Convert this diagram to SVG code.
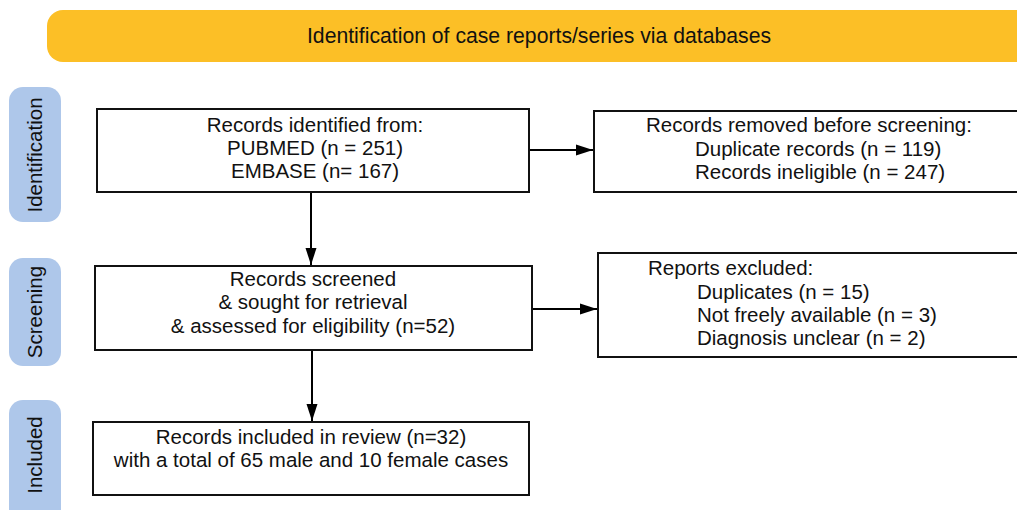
<svg xmlns="http://www.w3.org/2000/svg" width="1017" height="510" viewBox="0 0 1017 510">
<defs>
<marker id="ah" markerWidth="17" markerHeight="12" refX="17" refY="6" orient="auto" markerUnits="userSpaceOnUse">
<path d="M0,0.5 L17,6 L0,11.5 Z" fill="#000"/>
</marker>
<style>
text{font-family:"Liberation Sans",Arial,sans-serif;fill:#111;font-size:20.5px}
.box{fill:#fff;stroke:#111;stroke-width:2}
.side{fill:#aec7ea}
.c{text-anchor:middle}
.conn{stroke:#000;stroke-width:2;fill:none}
</style>
</defs>
<rect width="1017" height="510" fill="#fff"/>
<g id="banner">
<rect x="47" y="10" width="990" height="52" rx="16" fill="#fcbf26"/>
<text x="539" y="43" class="c" style="font-size:21.2px">Identification of case reports/series via databases</text>
</g>
<g id="label-identification">
<rect class="side" x="9" y="87" width="52" height="135" rx="14"/>
<text class="c" transform="translate(42,155) rotate(-90)">Identification</text>
</g>
<g id="label-screening">
<rect class="side" x="9" y="258" width="52" height="108" rx="14"/>
<text class="c" transform="translate(42,312) rotate(-90)">Screening</text>
</g>
<g id="label-included">
<rect class="side" x="9" y="400" width="52" height="125" rx="14"/>
<text class="c" transform="translate(42,455) rotate(-90)">Included</text>
</g>
<g id="box-identified">
<rect class="box" x="97" y="109" width="432" height="83"/>
<text class="c" x="315" y="132">Records identified from:</text>
<text class="c" x="315" y="155">PUBMED (n = 251)</text>
<text class="c" x="315" y="178">EMBASE (n= 167)</text>
</g>
<g id="box-removed">
<rect class="box" x="594" y="111" width="440" height="81"/>
<text x="646" y="132">Records removed before screening:</text>
<text x="695" y="156">Duplicate records (n = 119)</text>
<text x="695" y="179">Records ineligible (n = 247)</text>
</g>
<g id="box-screened">
<rect class="box" x="95" y="266" width="437" height="84"/>
<text class="c" x="313" y="286">Records screened</text>
<text class="c" x="313" y="309">&amp; sought for retrieval</text>
<text class="c" x="313" y="333">&amp; assessed for eligibility (n=52)</text>
</g>
<g id="box-excluded">
<rect class="box" x="598" y="253" width="440" height="104"/>
<text x="648" y="275">Reports excluded:</text>
<text x="697" y="299">Duplicates (n = 15)</text>
<text x="697" y="322">Not freely available (n = 3)</text>
<text x="697" y="345">Diagnosis unclear (n = 2)</text>
</g>
<g id="box-included">
<rect class="box" x="93" y="422" width="436" height="73"/>
<text class="c" x="311" y="444">Records included in review (n=32)</text>
<text class="c" x="311" y="467">with a total of 65 male and 10 female cases</text>
</g>
<g id="connectors">
<line class="conn" x1="530" y1="150" x2="593" y2="150" marker-end="url(#ah)"/>
<line class="conn" x1="311" y1="193" x2="311" y2="265" marker-end="url(#ah)"/>
<line class="conn" x1="533" y1="309" x2="597" y2="309" marker-end="url(#ah)"/>
<line class="conn" x1="312" y1="351" x2="312" y2="421" marker-end="url(#ah)"/>
</g>
</svg>
